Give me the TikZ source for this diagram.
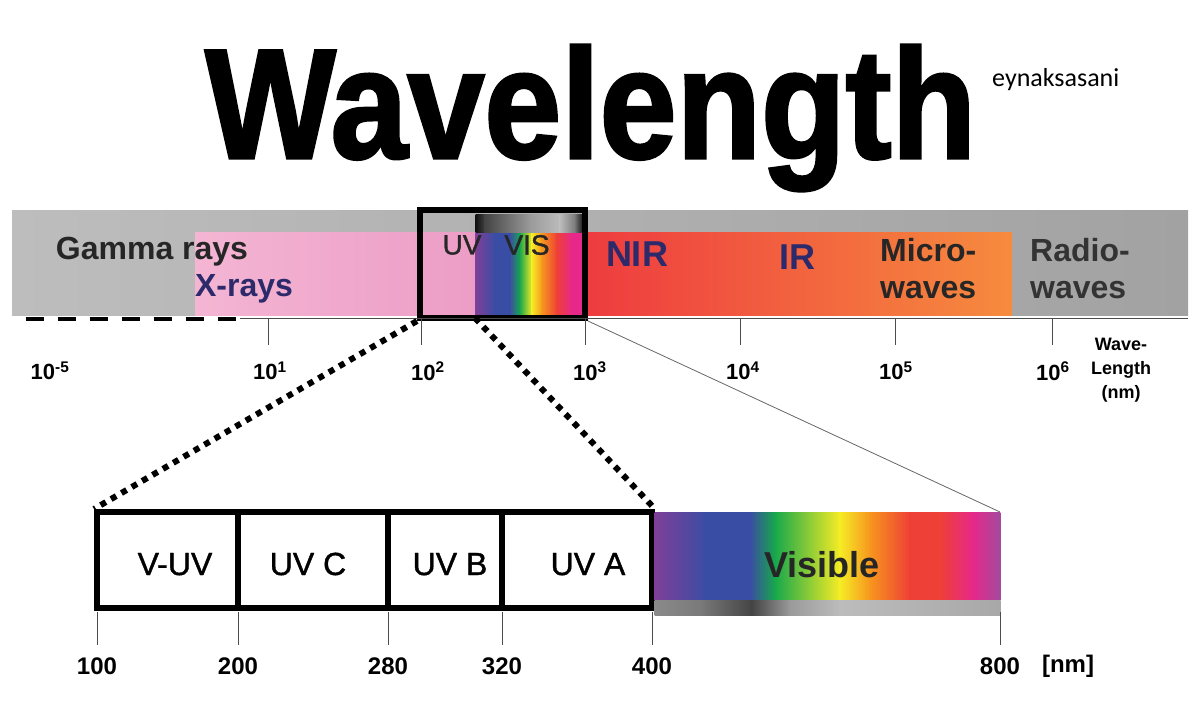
\documentclass[tikz,border=0pt]{standalone}
\usepackage{fontspec}
\setmainfont{Liberation Sans}
\newfontfamily\titlefont[BoldFeatures={FakeBold=2}]{Liberation Sans}
\newfontfamily\midfont[FakeBold=1.2]{Liberation Sans}
\newfontfamily\signfont{Carlito}
\newcommand\fsz[2]{\fontsize{#1}{#2}\selectfont}

\definecolor{bandL}{HTML}{BDBDBD}
\definecolor{bandR}{HTML}{A2A2A2}
\definecolor{pinkL}{HTML}{F4B5D3}
\definecolor{pinkR}{HTML}{EC9DC6}
\definecolor{specP}{HTML}{7E3F98}
\definecolor{specB}{HTML}{3A4DA4}
\definecolor{specG}{HTML}{17A84B}
\definecolor{specY}{HTML}{F6EC25}
\definecolor{specO}{HTML}{F7961E}
\definecolor{specR}{HTML}{EE4036}
\definecolor{specM}{HTML}{E7288A}
\definecolor{specV}{HTML}{A34A9E}
\definecolor{irL}{HTML}{EE3B3F}
\definecolor{irR}{HTML}{F68B3E}
\definecolor{navy}{HTML}{2D2A6B}
\definecolor{mtA}{HTML}{8A8A8A}
\definecolor{mtB}{HTML}{7A7A7A}
\definecolor{mtC}{HTML}{444444}
\definecolor{mtD}{HTML}{9A9A9A}
\definecolor{mtE}{HTML}{BCBCBC}
\definecolor{mtF}{HTML}{A8A8A8}
\definecolor{mtK}{HTML}{111111}

\tikzset{
  bandtxt/.style={font=\bfseries\fsz{32}{37}, inner sep=0},
  tickline/.style={draw=black!70, line width=1pt},
  ticklbl/.style={font=\bfseries\fsz{22}{26}, inner sep=0},
  celltxt/.style={font=\midfont\fsz{32}{36}, inner sep=0, anchor=base},
  nmlbl/.style={font=\bfseries\fsz{24}{28}, inner sep=0},
  zoomline/.style={line width=6pt, dash pattern=on 6pt off 6pt},
  frame/.style={draw, line width=6pt, inner sep=0}
}

\begin{document}
\begin{tikzpicture}[x=1pt, y=-1pt]
    \useasboundingbox (0,0) rectangle (1200,725);

    \node[anchor=base west, inner sep=0] (title) at (205,158)
        {\resizebox{770pt}{113pt}{\titlefont\bfseries Wavelength}};
    \node[anchor=base west, inner sep=0, font=\signfont\fsz{26}{30}] (sign) at (992,86) {eynaksasani};

    \shade[left color=bandL, right color=bandR] (12,210) rectangle (1188,315);
    \shade[left color=pinkL, right color=pinkR] (195,232) rectangle (477,315);
    \shade[left color=irL, right color=irR] (583,232) rectangle (1012,315);
    \foreach \xa/\xb/\ca/\cb in {476/495/specP/specB, 495/510/specB/specB, 510/520/specB/specG,
        520/532/specG/specY, 532/542/specY/specO, 542/557/specO/specR, 557/572/specR/specM, 572/583/specM/specM}
        \shade[left color=\ca, right color=\cb] ({\xa-0.4},232) rectangle ({\xb+0.4},315);
    \foreach \xa/\xb/\ca/\cb in {476/485/mtK/mtC, 485/530/mtC/mtD, 530/560/mtD/mtE, 560/575/mtE/mtB, 575/583/mtB/mtK}
        \shade[left color=\ca, right color=\cb] ({\xa-0.4},214) rectangle ({\xb+0.4},232);

    \node[bandtxt, text=black!85] (gamma) at (152,252) {Gamma rays};
    \node[bandtxt, text=navy] (xray) at (244,289) {X-rays};
    \node[font=\midfont\fsz{28}{32}, inner sep=0, text=black!85] (uv) at (462,245) {UV};
    \node[font=\midfont\fsz{28}{32}, inner sep=0, text=black!85] (vislabel) at (527,245) {VIS};
    \node[bandtxt, font=\bfseries\fsz{36}{40}, text=navy] (nir) at (637,254) {NIR};
    \node[bandtxt, font=\bfseries\fsz{36}{40}, text=navy] (ir) at (797,257) {IR};
    \node[bandtxt, align=left, anchor=west, text=black!85] (micro) at (880,269) {Micro-\\waves};
    \node[bandtxt, align=left, anchor=west, text=black!80] (radio) at (1030,269) {Radio-\\waves};

    \node[frame, minimum width=165pt, minimum height=108pt] (zoombox) at (502.5,264) {};

    \draw[line width=4pt, dash pattern=on 18pt off 14pt] (26,319) -- (245,319);
    \draw[black!70, line width=0.8pt] (240,318) -- (1188,318);
    \foreach \x/\n in {268/a, 421/b, 585/c, 740/d, 895/e, 1052/f} {
        \coordinate (t\n) at (\x,318);
        \draw[tickline] (t\n) -- ++(0,27);
    }
    \foreach \x/\n/\e in {50/o/-5, 270/a/1, 428/b/2, 590/c/3, 743/d/4, 896/e/5, 1053/f/6}
        \node[ticklbl] (l\n) at (\x,371) {10\textsuperscript{\e}};
    \node[font=\bfseries\fsz{18}{24}, align=center, inner sep=0] (wl) at (1121,370) {Wave-\\Length\\(nm)};

    \node[frame, minimum width=555pt, minimum height=96pt] (uvbox) at (374.5,560) {};
    \foreach \x in {238, 388, 502}
        \draw[line width=6pt] (\x,512) -- (\x,608);
    \node[celltxt] (vuv) at (175,575) {V-UV};
    \node[celltxt] (uvc) at (308,575) {UV C};
    \node[celltxt] (uvb) at (450,575) {UV B};
    \node[celltxt] (uva) at (588,575) {UV A};

    \foreach \xa/\xb/\ca/\cb in {655/707/specP/specB, 707/750/specB/specB, 750/775/specB/specG,
        775/840/specG/specY, 840/870/specY/specO, 870/910/specO/specR, 910/940/specR/specR,
        940/973/specR/specM, 973/1000/specM/specV}
        \shade[left color=\ca, right color=\cb] ({\xa-0.4},512) rectangle ({\xb+0.4},600);
    \foreach \xa/\xb/\ca/\cb in {655/700/mtA/mtB, 700/752/mtB/mtC, 752/790/mtC/mtD, 790/840/mtD/mtE, 840/1000/mtE/mtF}
        \shade[left color=\ca, right color=\cb] ({\xa-0.4},600) rectangle ({\xb+0.4},615);
    \coordinate (visNE) at (1000,512);
    \coordinate (visW) at (475,318);
    \node[font=\bfseries\fsz{36}{40}, inner sep=0, text=black!85] (vis) at (822,565) {Visible};

    \draw[zoomline] (zoombox.south west) -- (uvbox.north west);
    \draw[zoomline] (visW) -- (uvbox.north east);
    \draw[black!60, line width=0.8pt] (zoombox.south east) -- (visNE);

    \foreach \x/\n/\v in {97/p/100, 238/q/200, 388/r/280, 502/s/320, 652/t/400, 1000/u/800} {
        \coordinate (b\n) at (\x,612);
        \draw[tickline] (b\n) -- ++(0,33);
        \node[nmlbl] (m\n) at (\x,666) {\v};
    }
    \node[nmlbl] (nm) at (1068,666) {[nm]};
\end{tikzpicture}
\end{document}
